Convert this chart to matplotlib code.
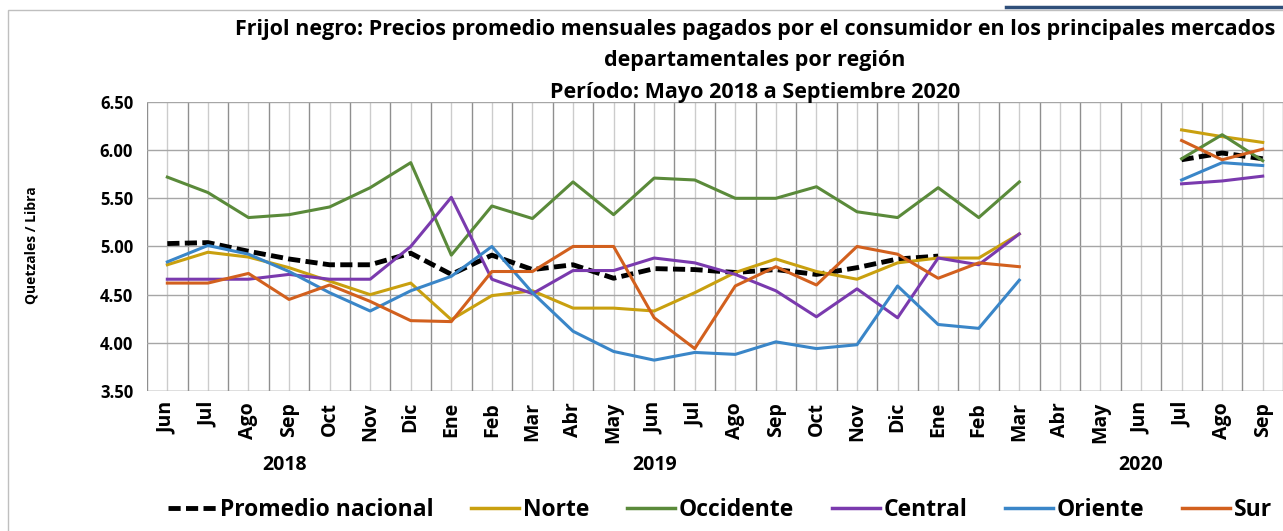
import numpy as np
import matplotlib
matplotlib.use('Agg')
import matplotlib.pyplot as plt
from matplotlib.patches import Rectangle
from matplotlib.lines import Line2D

plt.rcParams['font.family'] = ['Open Sans', 'DejaVu Sans']
plt.rcParams['font.weight'] = 'bold'

nan = np.nan

months = ['Jun', 'Jul', 'Ago', 'Sep', 'Oct', 'Nov', 'Dic',
          'Ene', 'Feb', 'Mar', 'Abr', 'May', 'Jun', 'Jul', 'Ago', 'Sep', 'Oct', 'Nov', 'Dic',
          'Ene', 'Feb', 'Mar', 'Abr', 'May', 'Jun', 'Jul', 'Ago', 'Sep']
years = ['2018', '2019', '2020']
year_pos = [2.9, 12.0, 24.0]

promedio = [5.03, 5.04, 4.95, 4.87, 4.81, 4.81, 4.93, 4.71, 4.91, 4.76, 4.81, 4.67, 4.77, 4.76,
            4.73, 4.76, 4.71, 4.78, 4.87, 4.90, nan, nan, nan, nan, nan, 5.90, 5.97, 5.91]
norte = [4.81, 4.94, 4.89, 4.78, 4.64, 4.50, 4.62, 4.24, 4.49, 4.54, 4.36, 4.36, 4.33, 4.52,
         4.73, 4.87, 4.74, 4.66, 4.83, 4.88, 4.88, 5.13, nan, nan, nan, 6.21, 6.14, 6.08]
occidente = [5.72, 5.56, 5.30, 5.33, 5.41, 5.61, 5.87, 4.91, 5.42, 5.29, 5.67, 5.33, 5.71, 5.69,
             5.50, 5.50, 5.62, 5.36, 5.30, 5.61, 5.30, 5.67, nan, nan, nan, 5.91, 6.16, 5.89]
central = [4.66, 4.66, 4.66, 4.71, 4.66, 4.66, 5.00, 5.51, 4.66, 4.51, 4.75, 4.75, 4.88, 4.83,
           4.71, 4.54, 4.27, 4.56, 4.26, 4.88, 4.81, 5.13, nan, nan, nan, 5.65, 5.68, 5.73]
oriente = [4.84, 5.01, 4.92, 4.74, 4.52, 4.33, 4.54, 4.69, 5.00, 4.52, 4.12, 3.91, 3.82, 3.90,
           3.88, 4.01, 3.94, 3.98, 4.59, 4.19, 4.15, 4.65, nan, nan, nan, 5.69, 5.87, 5.84]
sur = [4.62, 4.62, 4.72, 4.45, 4.60, 4.43, 4.23, 4.22, 4.74, 4.74, 5.00, 5.00, 4.26, 3.94,
       4.59, 4.79, 4.60, 5.00, 4.92, 4.67, 4.83, 4.79, nan, nan, nan, 6.10, 5.90, 6.01]

series = [
    ('Norte', norte, '#C9A00F'),
    ('Occidente', occidente, '#5A8A3A'),
    ('Central', central, '#7A3AAE'),
    ('Oriente', oriente, '#3A86C8'),
    ('Sur', sur, '#D2601E'),
]
dash = (0, (2.5, 1.1))

fig = plt.figure(figsize=(12.83, 5.31), dpi=100)
ax = fig.add_axes([0.1146, 0.2637, 0.8854, 0.5443])

x = np.arange(len(months))
ax.plot(x, promedio, color='black', lw=3.5, ls=dash, zorder=3)
for i, (name, vals, col) in enumerate(series):
    ax.plot(x, vals, color=col, lw=2.2, zorder=4 + i)

ax.set_xlim(-0.5, len(months) - 0.5)
ax.set_ylim(3.5, 6.5)
yt = np.arange(3.5, 6.51, 0.5)
ax.set_yticks(yt)
ax.set_yticklabels(['%.2f' % v for v in yt], fontsize=12, fontweight='bold')
ax.set_xticks(x)
ax.set_xticklabels(months, rotation=90, fontsize=14, fontweight='bold')
ax.set_xticks(np.arange(-0.5, len(months), 1.0), minor=True)
ax.tick_params(axis='x', which='major', length=0, pad=8)
ax.tick_params(axis='x', which='minor', length=0)
ax.tick_params(axis='y', length=0, pad=10)

# category centers lighter, boundaries darker
ax.grid(axis='x', which='major', color='#cccccc', lw=1.0, zorder=0)
ax.grid(axis='x', which='minor', color='#8f8f8f', lw=1.0, zorder=0)
ax.grid(axis='y', which='major', color='#a6a6a6', lw=1.0, zorder=0)
for s in ax.spines.values():
    s.set_visible(False)
ax.axhline(3.5, color='#a6a6a6', lw=1.0, zorder=1)

for yr, xp in zip(years, year_pos):
    ax.text(xp, -0.255, yr, transform=ax.get_xaxis_transform(), ha='center', va='center',
            fontsize=14, fontweight='bold')

fig.text(32 / 1283, 1 - 245 / 531, 'Quetzales / Libra', rotation=90, ha='center', va='center',
         fontsize=10, fontweight='bold')

fig.text(755 / 1283, 1 - 19 / 531,
         'Frijol negro: Precios promedio mensuales pagados por el consumidor en los principales mercados\n'
         'departamentales por región\nPeríodo: Mayo 2018 a Septiembre 2020',
         ha='center', va='top', fontsize=15.5, fontweight='bold', linespacing=1.65)

handles = [Line2D([0], [0], color='black', lw=3.5, ls=dash)]
labels = ['Promedio nacional']
for name, vals, col in series:
    handles.append(Line2D([0], [0], color=col, lw=2.5))
    labels.append(name)
fig.legend(handles, labels, loc='center', bbox_to_anchor=(720 / 1283, 1 - 510 / 531), ncol=6,
           frameon=False, prop={'size': 16.5, 'weight': 'bold'}, handlelength=2.1,
           handletextpad=0.15, columnspacing=1.65)

# outer chart frame and header bar
fig.add_artist(Rectangle((8 / 1283, -0.05), 1.1, 1 - 10 / 531 + 0.05, transform=fig.transFigure,
                         fill=False, edgecolor='#bfbfbf', lw=1.0))
fig.add_artist(Line2D([1006 / 1283, 1.0], [1 - 7 / 531] * 2, transform=fig.transFigure,
                      color='#2F4F7A', lw=2.5))

fig.savefig('out.png', dpi=100)
